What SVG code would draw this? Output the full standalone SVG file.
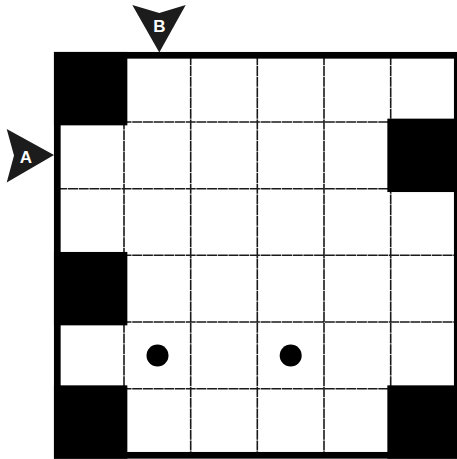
<svg xmlns="http://www.w3.org/2000/svg" width="457" height="459" viewBox="0 0 457 459">
<style>
.grid line{stroke:#1a1a1a;stroke-width:1.6;stroke-dasharray:10 0.7}
.blk{fill:#000;stroke:#000;stroke-width:6.7}
.dot{fill:#000}
.arrow{fill:#1c1c1c}
.lbl{font-family:"Liberation Sans",Arial,sans-serif;font-weight:bold;font-size:17px;fill:#fff;text-anchor:middle}
</style>
<rect x="0" y="0" width="457" height="459" fill="#fff"/>
<g id="grid" class="grid">
<line x1="124" y1="55.3" x2="124" y2="455.3"/>
<line x1="190.7" y1="55.3" x2="190.7" y2="455.3"/>
<line x1="257.3" y1="55.3" x2="257.3" y2="455.3"/>
<line x1="324" y1="55.3" x2="324" y2="455.3"/>
<line x1="390.7" y1="55.3" x2="390.7" y2="455.3"/>
<line x1="57.3" y1="122" x2="457.3" y2="122"/>
<line x1="57.3" y1="188.7" x2="457.3" y2="188.7"/>
<line x1="57.3" y1="255.3" x2="457.3" y2="255.3"/>
<line x1="57.3" y1="322" x2="457.3" y2="322"/>
<line x1="57.3" y1="388.7" x2="457.3" y2="388.7"/>
</g>
<g id="blocks">
<rect class="blk" x="57.3" y="55.3" width="66.7" height="66.7"/>
<rect class="blk" x="390.7" y="122" width="66.7" height="66.7"/>
<rect class="blk" x="57.3" y="255.3" width="66.7" height="66.7"/>
<rect class="blk" x="57.3" y="388.7" width="66.7" height="66.7"/>
<rect class="blk" x="390.7" y="388.7" width="66.7" height="66.7"/>
</g>
<rect id="border" x="57.3" y="55.3" width="400" height="400" fill="none" stroke="#000" stroke-width="6.7"/>
<g id="dots">
<circle class="dot" cx="157.5" cy="355.5" r="11"/>
<circle class="dot" cx="290.7" cy="355.5" r="11"/>
</g>
<g id="arrowA">
<polygon class="arrow" points="54,155 6.7,129 14,155.5 6.7,182.5"/>
<text class="lbl" x="26" y="162.5">A</text>
</g>
<g id="arrowB">
<polygon class="arrow" points="159.3,52.5 132.3,5 159.3,13 185.7,5"/>
<text class="lbl" x="159.3" y="32">B</text>
</g>
</svg>
